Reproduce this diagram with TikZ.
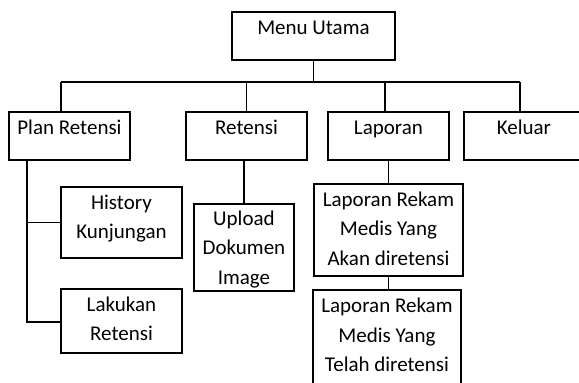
\documentclass[tikz,border=0pt]{standalone}
\usepackage{fontspec}
\setmainfont{Carlito}
\begin{document}
\begin{tikzpicture}[x=1pt,y=-1pt,
  box/.style={draw,line width=1.9pt,rectangle,inner sep=0pt,anchor=north west},
  lbl/.style={anchor=north,inner sep=0pt,align=center,
    font=\fontsize{21}{29.5}\selectfont,yshift=-2.5pt},
  wire/.style={line width=1.9pt}]
\useasboundingbox (0,0) rectangle (579,383);
\clip (0,0) rectangle (579,383);

% top level
\node[box,minimum width=163pt,minimum height=48pt] (mu) at (231,11) {};
\node[lbl] (mut) at (mu.north) {\strut Menu Utama};

% first level
\node[box,minimum width=121pt,minimum height=48pt] (pr) at (8,111) {};
\node[lbl] (prt) at (pr.north) {\strut Plan Retensi};
\node[box,minimum width=121pt,minimum height=48pt] (re) at (185,111) {};
\node[lbl] (ret) at (re.north) {\strut Retensi};
\node[box,minimum width=121pt,minimum height=48pt] (lp) at (327,111) {};
\node[lbl] (lpt) at (lp.north) {\strut Laporan};
\node[box,minimum width=122pt,minimum height=48pt] (kl) at (463,111) {};
\node[lbl,xshift=-1pt] (klt) at (kl.north) {\strut Keluar};

% second level
\node[box,minimum width=121pt,minimum height=71pt] (hk) at (60,186) {};
\node[lbl] (hkt) at (hk.north) {\strut History\\Kunjungan};
\node[box,minimum width=121pt,minimum height=64pt] (lr) at (60,288) {};
\node[lbl] (lrt0) at (lr.north) {\strut Lakukan\\Retensi};
\node[box,minimum width=100pt,minimum height=87pt] (up) at (193,203) {};
\node[lbl,yshift=1pt] (upt) at (up.north) {\strut Upload\\Dokumen\\Image};
\node[box,minimum width=149pt,minimum height=92pt] (la) at (313,183) {};
\node[lbl] (lat) at (la.north) {\strut Laporan Rekam\\Medis Yang\\Akan diretensi};
\node[box,minimum width=148pt,minimum height=110pt] (lt) at (312,289) {};
\node[lbl,yshift=-0.5pt] (ltt) at (lt.north) {\strut Laporan Rekam\\Medis Yang\\Telah diretensi};

% bus under the top box
\coordinate (bl) at (61,82);
\coordinate (br) at (520,82);
\coordinate (b3) at (385,82);
\draw[wire] (bl) -- (br);
\draw[wire] (mu.south) -- (mu.south |- bl);
\draw[wire] (bl) -- (bl |- pr.north);
\draw[wire] (re.north) -- (re.north |- bl);
\draw[wire] (b3) -- (b3 |- lp.north);
\draw[wire] (br) -- (br |- kl.north);

% Plan Retensi branch
\coordinate (tr) at (27,159);
\draw[wire] (tr) -- (tr |- 0,322) -- (lr.west |- 0,322);
\draw[wire] (tr |- hk.west) -- (hk.west);

% Retensi and Laporan branches
\draw[wire] (up.north) -- (up.north |- re.south);
\draw[wire] (la.north) -- (la.north |- lp.south);
\draw[wire] (la.south) -- (la.south |- lt.north);
\end{tikzpicture}
\end{document}
